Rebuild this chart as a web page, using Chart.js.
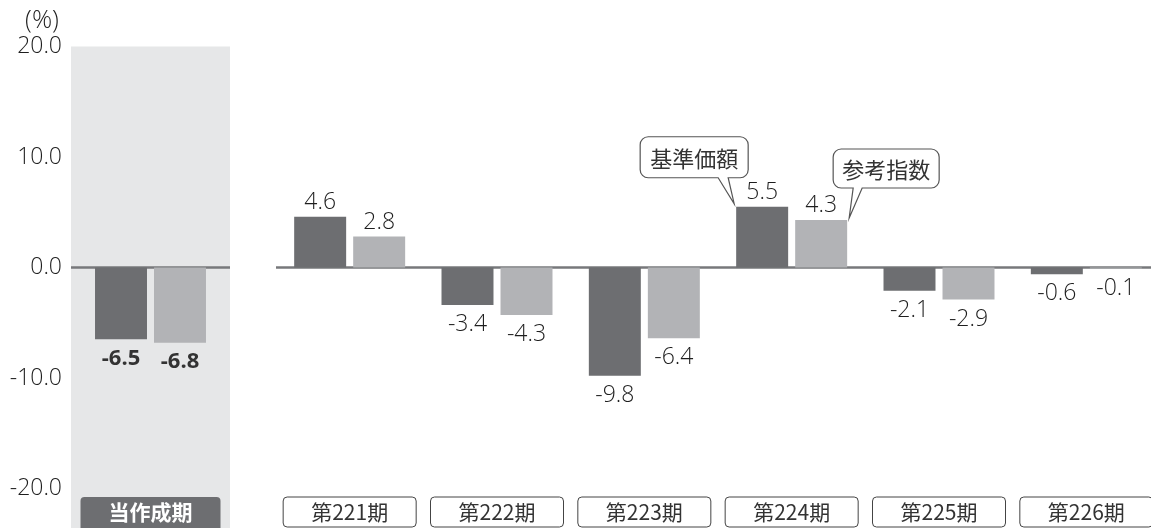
<!DOCTYPE html>
<html>
<head>
<meta charset="utf-8">
<script src="https://cdn.jsdelivr.net/npm/chart.js@4.4.1/dist/chart.umd.min.js"></script>
<style>
  html, body { margin: 0; padding: 0; background: #fff; overflow: hidden; }
  #wrap { position: relative; width: 1151px; height: 528px; overflow: hidden; }
  #cA { position: absolute; left: 0; top: 0; }
  #cB { position: absolute; left: 276px; top: 0; }
</style>
</head>
<body>
<div id="wrap">
  <canvas id="cA" width="230" height="528"></canvas>
  <canvas id="cB" width="884" height="528"></canvas>
</div>
<script>
// ---- data ----
const currentLabels = ['当作成期'];
const periodLabels = ['第221期', '第222期', '第223期', '第224期', '第225期', '第226期'];
const seriesNames = ['基準価額', '参考指数'];
const navCurrent = [-6.5];
const benchCurrent = [-6.8];
const navPeriods = [4.6, -3.4, -9.8, 5.5, -2.1, -0.6];
const benchPeriods = [2.8, -4.3, -6.4, 4.3, -2.9, -0.1];
const yMin = -20, yMax = 20, yStep = 10;
const unitLabel = '(%)';
const calloutIndex = 3;

// ---- styles ----
const DARK = '#6d6e71';
const LIGHT = '#b2b3b6';
const BAND = '#e6e7e8';
const ZERO = '#77787b';
const TXT = '#333333';
const NUMTXT = '#1e1e1e';
const NUMW = '300';
const NUMSIZE = 23;
const NUMFONT = '"Open Sans", "Noto Sans CJK JP", sans-serif';
const JPFONT = '"Noto Sans CJK JP", "Noto Sans", sans-serif';

const zeroLinePlugin = {
  id: 'zeroLine',
  beforeDatasetsDraw(chart) {
    const { ctx, chartArea, scales } = chart;
    const y = scales.y.getPixelForValue(0);
    ctx.save();
    ctx.strokeStyle = ZERO;
    ctx.lineWidth = 2.5;
    ctx.beginPath();
    ctx.moveTo(chartArea.left, y);
    ctx.lineTo(chartArea.right, y);
    ctx.stroke();
    ctx.restore();
  }
};

function valueLabelPlugin(bold) {
  return {
    id: 'valueLabels',
    afterDatasetsDraw(chart) {
      const { ctx } = chart;
      ctx.save();
      ctx.fillStyle = bold ? TXT : NUMTXT;
      ctx.textAlign = 'center';
      ctx.font = (bold ? 'bold 22px ' : NUMW + ' ' + NUMSIZE + 'px ') + NUMFONT;
      chart.data.datasets.forEach((ds, di) => {
        const meta = chart.getDatasetMeta(di);
        meta.data.forEach((el, i) => {
          const v = ds.data[i];
          const txt = v.toFixed(1);
          if (v >= 0) {
            ctx.textBaseline = 'alphabetic';
            ctx.fillText(txt, el.x, el.y - 8);
          } else {
            ctx.textBaseline = 'top';
            ctx.fillText(txt, el.x, el.y + 8);
          }
        });
      });
      ctx.restore();
    }
  };
}

function roundRectPath(ctx, x, y, w, h, r) {
  ctx.beginPath();
  ctx.moveTo(x + r, y);
  ctx.lineTo(x + w - r, y);
  ctx.arcTo(x + w, y, x + w, y + r, r);
  ctx.lineTo(x + w, y + h - r);
  ctx.arcTo(x + w, y + h, x + w - r, y + h, r);
  ctx.lineTo(x + r, y + h);
  ctx.arcTo(x, y + h, x, y + h - r, r);
  ctx.lineTo(x, y + r);
  ctx.arcTo(x, y, x + r, y, r);
  ctx.closePath();
}

function bubble(ctx, x, y, w, h, r, baseL, baseR, tipX, tipY, text) {
  ctx.save();
  ctx.beginPath();
  ctx.moveTo(x + r, y);
  ctx.lineTo(x + w - r, y);
  ctx.arcTo(x + w, y, x + w, y + r, r);
  ctx.lineTo(x + w, y + h - r);
  ctx.arcTo(x + w, y + h, x + w - r, y + h, r);
  ctx.lineTo(baseR, y + h);
  ctx.lineTo(tipX, tipY);
  ctx.lineTo(baseL, y + h);
  ctx.lineTo(x + r, y + h);
  ctx.arcTo(x, y + h, x, y + h - r, r);
  ctx.lineTo(x, y + r);
  ctx.arcTo(x, y, x + r, y, r);
  ctx.closePath();
  ctx.fillStyle = '#ffffff';
  ctx.fill();
  ctx.strokeStyle = '#555555';
  ctx.lineWidth = 1.2;
  ctx.stroke();
  ctx.fillStyle = TXT;
  ctx.font = '22px ' + JPFONT;
  ctx.textAlign = 'center';
  ctx.textBaseline = 'middle';
  ctx.fillText(text, x + w / 2, y + h / 2 + 1);
  ctx.restore();
}

const bandPlugin = {
  id: 'band',
  beforeDraw(chart) {
    const { ctx, chartArea } = chart;
    ctx.save();
    ctx.fillStyle = BAND;
    ctx.fillRect(chartArea.left, chartArea.top, chartArea.right - chartArea.left, chart.height - chartArea.top);
    ctx.restore();
  },
  afterDraw(chart) {
    const { ctx, chartArea, scales } = chart;
    ctx.save();
    // unit label
    ctx.fillStyle = NUMTXT;
    ctx.font = NUMW + ' 25px ' + NUMFONT;
    ctx.textAlign = 'center';
    ctx.textBaseline = 'middle';
    ctx.fillText(unitLabel, 42, 21);
    // category tag
    chart.data.labels.forEach((lab, i) => {
      const cx = scales.x.getPixelForValue(i);
      const top = chartArea.bottom + 8.5;
      roundRectPath(ctx, cx - 70, top, 140, 40, 4);
      ctx.fillStyle = DARK;
      ctx.fill();
      ctx.fillStyle = '#ffffff';
      ctx.font = 'bold 21px ' + JPFONT;
      ctx.fillText(lab, cx, top + 15.5);
    });
    ctx.restore();
  }
};

const periodTagPlugin = {
  id: 'periodTags',
  afterDraw(chart) {
    const { ctx, chartArea, scales } = chart;
    ctx.save();
    chart.data.labels.forEach((lab, i) => {
      const cx = scales.x.getPixelForValue(i);
      const top = chartArea.bottom + 8.5;
      roundRectPath(ctx, cx - 66.5, top, 133, 30, 4);
      ctx.fillStyle = '#ffffff';
      ctx.fill();
      ctx.strokeStyle = '#444444';
      ctx.lineWidth = 1;
      ctx.stroke();
      ctx.fillStyle = TXT;
      ctx.font = '21px ' + JPFONT;
      ctx.textAlign = 'center';
      ctx.textBaseline = 'middle';
      ctx.fillText(lab, cx, top + 15.5);
    });
    // callouts
    const d0 = chart.getDatasetMeta(0).data[calloutIndex];
    const d1 = chart.getDatasetMeta(1).data[calloutIndex];
    if (d0) {
      const left = d0.x - d0.width / 2;
      bubble(ctx, left - 96, d0.y - 70, 108, 41, 8, left - 18, left - 8, left - 2, d0.y - 3, seriesNames[0]);
    }
    if (d1) {
      const right = d1.x + d1.width / 2;
      bubble(ctx, right - 14, d1.y - 71, 106, 39, 8, right + 6, right + 15, right + 2, d1.y - 2, seriesNames[1]);
    }
    ctx.restore();
  }
};

new Chart(document.getElementById('cA'), {
  type: 'bar',
  data: {
    labels: currentLabels,
    datasets: [
      { label: seriesNames[0], data: navCurrent, backgroundColor: DARK },
      { label: seriesNames[1], data: benchCurrent, backgroundColor: LIGHT }
    ]
  },
  options: {
    responsive: false,
    animation: false,
    devicePixelRatio: 1,
    layout: { padding: { top: 46.5, bottom: 39.5, left: 0, right: 0 } },
    categoryPercentage: 0.742,
    barPercentage: 0.881,
    plugins: { legend: { display: false }, tooltip: { enabled: false } },
    scales: {
      x: { display: false },
      y: {
        min: yMin, max: yMax,
        afterFit(s) { s.width = 71; },
        grid: { display: false, drawTicks: false },
        border: { display: false },
        ticks: {
          stepSize: yStep,
          padding: 9,
          color: NUMTXT,
          font: { family: NUMFONT, size: NUMSIZE, weight: NUMW },
          callback: v => Number(v).toFixed(1)
        }
      }
    }
  },
  plugins: [bandPlugin, zeroLinePlugin, valueLabelPlugin(true)]
});

new Chart(document.getElementById('cB'), {
  type: 'bar',
  data: {
    labels: periodLabels,
    datasets: [
      { label: seriesNames[0], data: navPeriods, backgroundColor: DARK },
      { label: seriesNames[1], data: benchPeriods, backgroundColor: LIGHT }
    ]
  },
  options: {
    responsive: false,
    animation: false,
    devicePixelRatio: 1,
    layout: { padding: { top: 46.5, bottom: 39.5, left: 0, right: 0 } },
    categoryPercentage: 0.801,
    barPercentage: 0.881,
    plugins: { legend: { display: false }, tooltip: { enabled: false } },
    scales: {
      x: { display: false },
      y: { display: false, min: yMin, max: yMax }
    }
  },
  plugins: [zeroLinePlugin, valueLabelPlugin(false), periodTagPlugin]
});
</script>
</body>
</html>
